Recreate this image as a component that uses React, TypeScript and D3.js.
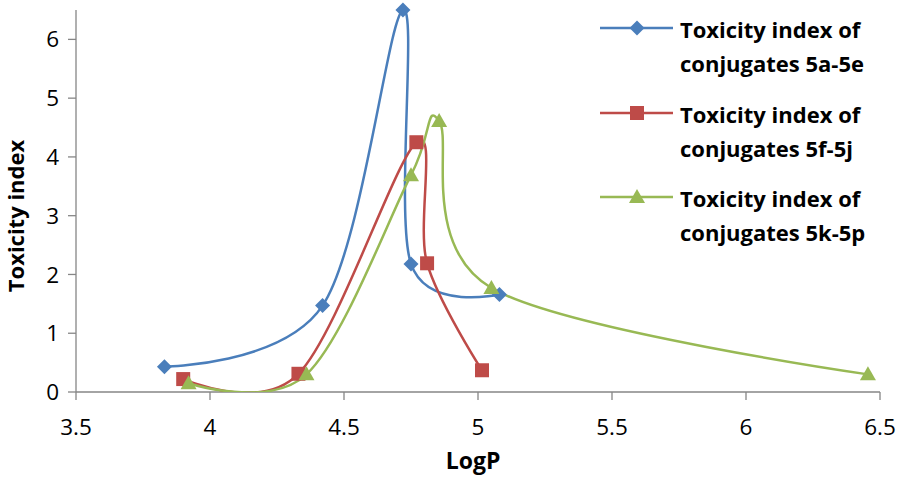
import React from "react";
import * as d3 from "d3";

const seriesNames = [
  ["Toxicity index of", "conjugates 5a-5e"],
  ["Toxicity index of", "conjugates 5f-5j"],
  ["Toxicity index of", "conjugates 5k-5p"],
];
const logP_a = [3.83, 4.42, 4.72, 4.75, 5.08];
const tox_a = [0.43, 1.47, 6.5, 2.18, 1.66];
const logP_f = [3.9, 4.33, 4.77, 4.81, 5.015];
const tox_f = [0.22, 0.31, 4.25, 2.19, 0.37];
const logP_k = [3.92, 4.36, 4.75, 4.855, 5.05, 6.455];
const tox_k = [0.15, 0.3, 3.69, 4.61, 1.77, 0.3];
const xTicks = [3.5, 4, 4.5, 5, 5.5, 6, 6.5];
const yTicks = [0, 1, 2, 3, 4, 5, 6];
const colors = ["#4A7EBB", "#BE4B48", "#98B954"];
const markers = ["diamond", "square", "triangle"];

const W = 898, H = 479;
const left = 76, right = 880, top = 10, bottom = 392;
const FONT = "'Open Sans', 'Noto Sans', sans-serif";

export default function App() {
  const x = d3.scaleLinear().domain([3.5, 6.5]).range([left, right]);
  const y = d3.scaleLinear().domain([0, 6.5]).range([bottom, top]);
  const series = [
    { xs: logP_a, ys: tox_a },
    { xs: logP_f, ys: tox_f },
    { xs: logP_k, ys: tox_k },
  ];
  const line = d3
    .line<[number, number]>()
    .x((d) => x(d[0]))
    .y((d) => y(d[1]))
    .curve(d3.curveCardinal.tension(0));

  const markerPath = (type: string, cx: number, cy: number) => {
    if (type === "diamond") {
      const r = 7.5;
      return `M${cx},${cy - r}L${cx + r},${cy}L${cx},${cy + r}L${cx - r},${cy}Z`;
    }
    if (type === "square") {
      const r = 7;
      return `M${cx - r},${cy - r}H${cx + r}V${cy + r}H${cx - r}Z`;
    }
    const r = 8;
    return `M${cx},${cy - r}L${cx + r},${cy + r * 0.75}L${cx - r},${cy + r * 0.75}Z`;
  };

  const legendY = [28, 113, 197];

  return (
    <svg
      width={W}
      height={H}
      style={{ position: "absolute", left: 0, top: 0, background: "#fff" }}
      fontFamily={FONT}
    >
      <defs>
        <clipPath id="plot">
          <rect x={left} y={top - 10} width={right - left + 20} height={bottom - top + 10} />
        </clipPath>
      </defs>
      {/* axes */}
      <line x1={left} x2={left} y1={top} y2={bottom} stroke="#868686" strokeWidth={1.3} />
      <line x1={left} x2={right} y1={bottom} y2={bottom} stroke="#868686" strokeWidth={1.3} />
      {yTicks.map((t) => (
        <g key={"y" + t}>
          <line x1={left - 8} x2={left} y1={y(t)} y2={y(t)} stroke="#868686" strokeWidth={1.3} />
          <text x={left - 17} y={y(t)} dy="0.36em" textAnchor="end" fontSize={22.5} fill="#000">
            {t}
          </text>
        </g>
      ))}
      {xTicks.map((t) => (
        <g key={"x" + t}>
          <line x1={x(t)} x2={x(t)} y1={bottom} y2={bottom + 8} stroke="#868686" strokeWidth={1.3} />
          <text x={x(t)} y={427} dy="0.36em" textAnchor="middle" fontSize={22.5} fill="#000">
            {t}
          </text>
        </g>
      ))}
      <text
        x={473}
        y={461}
        dy="0.36em"
        textAnchor="middle"
        fontSize={23}
        fontWeight="bold"
        fill="#000"
      >
        LogP
      </text>
      <text
        transform={`translate(16,216) rotate(-90)`}
        dy="0.36em"
        textAnchor="middle"
        fontSize={22}
        fontWeight="bold"
        fill="#000"
      >
        Toxicity index
      </text>
      {/* series */}
      <g clipPath="url(#plot)">
        {series.map((s, i) => (
          <path
            key={"l" + i}
            d={line(s.xs.map((v, j) => [v, s.ys[j]] as [number, number])) || ""}
            fill="none"
            stroke={colors[i]}
            strokeWidth={2.5}
          />
        ))}
      </g>
      {series.map((s, i) =>
        s.xs.map((v, j) => (
          <path key={"m" + i + "-" + j} d={markerPath(markers[i], x(v), y(s.ys[j]))} fill={colors[i]} />
        ))
      )}
      {/* legend */}
      {seriesNames.map((nm, i) => (
        <g key={"lg" + i}>
          <line x1={600} x2={673} y1={legendY[i]} y2={legendY[i]} stroke={colors[i]} strokeWidth={2.5} />
          <path d={markerPath(markers[i], 637, legendY[i])} fill={colors[i]} />
          <text x={680} y={legendY[i] + 2} dy="0.36em" fontSize={22} fontWeight="bold" fill="#000">
            {nm[0]}
          </text>
          <text x={680} y={legendY[i] + 36} dy="0.36em" fontSize={22} fontWeight="bold" fill="#000">
            {nm[1]}
          </text>
        </g>
      ))}
    </svg>
  );
}
